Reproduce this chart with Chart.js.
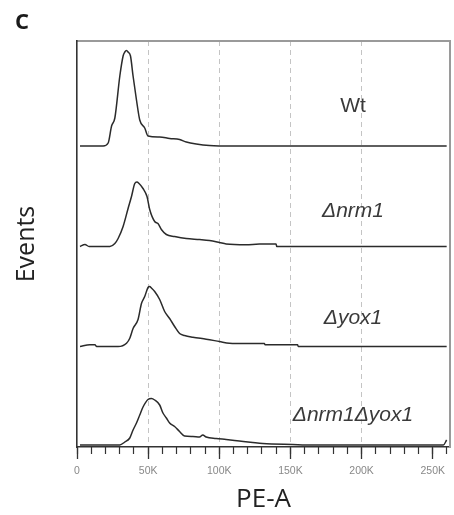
<!DOCTYPE html>
<html>
<head>
<meta charset="utf-8">
<script src="https://cdn.jsdelivr.net/npm/chart.js@4.4.1/dist/chart.umd.min.js"></script>
<style>
  html, body { margin: 0; padding: 0; background: #ffffff; }
  canvas { display: block; }
</style>
</head>
<body>
<canvas id="c" width="454" height="515"></canvas>
<script>
// ---- data (x in thousands of PE-A units, heights in arbitrary event units) ----
const strains = ['Wt', 'Δnrm1', 'Δyox1', 'Δnrm1Δyox1'];
const offsets = [301, 200.5, 100.5, 2];   // vertical stacking offset for each histogram

const wtX = [2.1, 18.4, 21.9, 24.3, 26.6, 30.1, 32.4, 33.6, 34.8, 35.9, 37.6, 39.4, 41.8, 44.1, 47.6, 49.9, 58.1, 65.1, 72.1, 76.8, 83.8, 93.1, 109.2, 259.8];
const wtH = [0, 0, 3, 20, 28, 70, 90, 94, 95.5, 94, 90, 70, 46, 26, 18, 10, 9, 7.5, 6.5, 4, 2, 0.5, 0, 0];

const nrm1X = [2.1, 5.6, 8.5, 23.1, 26.6, 28.9, 32.4, 35.9, 38.3, 40.6, 42.1, 43.6, 46.4, 49.2, 51.1, 54.6, 56.9, 59.3, 62.8, 68.6, 76.8, 86.1, 93.1, 100.1, 104.8, 118.8, 128.2, 139.9, 140.4, 259.8];
const nrm1H = [0, 2, 0, 0, 3, 8, 20, 38, 50, 63, 64.5, 63, 58, 50, 37, 25, 23, 17, 12, 10, 8, 7, 6, 4, 2.5, 1.7, 2.5, 2.5, 0, 0];

const yox1X = [2.1, 9.1, 12.6, 13.8, 28.9, 34.8, 37.1, 39.4, 42.9, 45.3, 47.6, 49.9, 51.1, 52.3, 54.6, 58.1, 61.6, 65.1, 68.6, 72.1, 75.6, 81.4, 90.8, 100.1, 107.1, 118.8, 128.2, 131.7, 132.2, 155.0, 155.5, 259.8];
const yox1H = [0, 1.7, 1.7, 0, 0, 3.3, 8.3, 18, 27, 43, 50, 59, 60, 58.5, 55, 47, 35, 28, 20, 13, 11, 9.3, 7.3, 5, 3.3, 3, 3, 3, 1.7, 1.7, 0, 0];

const dblX = [2.1, 30.1, 33.6, 37.1, 39.4, 41.8, 44.1, 46.4, 49.9, 52.3, 54.6, 58.1, 60.4, 62.8, 65.1, 68.6, 72.1, 75.6, 81.4, 86.1, 88.4, 90.8, 97.8, 104.8, 114.1, 123.5, 130.5, 151.5, 165.3, 177.2, 257.5, 259.8];
const dblH = [0, 0, 3, 7, 15, 22, 30, 38, 45.5, 46.5, 45, 40, 32, 27, 22, 18.5, 13.5, 9, 8.5, 8, 10, 8, 6.5, 5.5, 4, 2.5, 1.5, 0.5, 0, 0, 0, 5];

const majorTicks = [0, 50, 100, 150, 200, 250];     // labelled ticks (K)
const tickLabels = ['0', '50K', '100K', '150K', '200K', '250K'];
const xMax = 262.144;

// ---- build datasets ----
const seriesX = [wtX, nrm1X, yox1X, dblX];
const seriesH = [wtH, nrm1H, yox1H, dblH];
const datasets = strains.map((name, i) => ({
  label: name,
  data: seriesX[i].map((x, j) => ({ x: x, y: offsets[i] + seriesH[i][j] })),
  borderColor: '#2b2b2b',
  borderWidth: 1.5,
  pointRadius: 0,
  fill: false,
  cubicInterpolationMode: 'monotone',
  xAxisID: 'x',
  yAxisID: 'y'
}));

// label placement style (x in K, y in chart units)
const labelStyle = {
  x: 194,
  y: [340.5, 236, 129, 32],
  italic: [false, true, true, true],
  font: '21px "Liberation Sans", Arial, sans-serif',
  color: '#3a3a3a'
};

const textPlugin = {
  id: 'strainLabels',
  afterDraw(chart) {
    const ctx = chart.ctx;
    const xs = chart.scales.x, ys = chart.scales.y;
    ctx.save();
    ctx.fillStyle = labelStyle.color;
    ctx.textAlign = 'center';
    ctx.textBaseline = 'middle';
    strains.forEach((s, i) => {
      ctx.font = (labelStyle.italic[i] ? 'italic ' : '') + labelStyle.font;
      ctx.fillText(s, xs.getPixelForValue(labelStyle.x), ys.getPixelForValue(labelStyle.y[i]));
    });
    // panel letter
    ctx.fillStyle = '#1a1a1a';
    ctx.font = 'bold 22px "Open Sans", sans-serif';
    ctx.textAlign = 'left';
    ctx.fillText('C', 15, 23);
    ctx.restore();
  }
};

new Chart(document.getElementById('c'), {
  type: 'line',
  data: { datasets },
  plugins: [textPlugin],
  options: {
    responsive: false,
    animation: false,
    devicePixelRatio: 1,
    layout: { padding: 0 },
    plugins: { legend: { display: false }, tooltip: { enabled: false }, title: { display: false } },
    scales: {
      x2: {
        type: 'linear', position: 'bottom', weight: 0,
        min: 0, max: xMax,
        ticks: { display: false, stepSize: 10, includeBounds: false },
        grid: { drawOnChartArea: false, drawTicks: true, tickLength: 7, tickColor: '#333', tickWidth: 1.2 },
        border: { display: false },
        afterFit(s) { s.height = 0; }
      },
      x: {
        type: 'linear', position: 'bottom', weight: 1,
        min: 0, max: xMax,
        ticks: {
          stepSize: 50, includeBounds: false, padding: 6, maxRotation: 0, autoSkip: false,
          color: '#888',
          font: { family: '"Liberation Sans", Arial, sans-serif', size: 10.5 },
          callback: (v) => { const k = majorTicks.indexOf(v); return k >= 0 ? tickLabels[k] : ''; }
        },
        grid: {
          drawOnChartArea: true, drawTicks: true, tickLength: 12, tickColor: '#333', tickWidth: 1.3,
          lineWidth: 1,
          color: (c) => (c.tick && c.tick.value > 0 && c.tick.value < 250) ? '#c4c4c4' : 'rgba(0,0,0,0)'
        },
        border: { display: true, color: '#333', width: 1.6, dash: [5, 4] },
        title: {
          display: true, text: 'PE-A', color: '#222',
          font: { family: '"Open Sans", sans-serif', size: 26 },
          padding: { top: 0, bottom: 0 }
        },
        afterFit(s) { s.height = 68; }
      },
      xTop: {
        type: 'linear', position: 'top', min: 0, max: 1,
        ticks: { display: false }, grid: { display: false, drawTicks: false },
        border: { display: true, color: '#9a9a9a', width: 2 },
        afterFit(s) { s.height = 41; }
      },
      y: {
        type: 'linear', position: 'left', min: 0, max: 406,
        ticks: { display: false }, grid: { display: false, drawTicks: false },
        border: { display: true, color: '#333', width: 1.6 },
        title: {
          display: true, text: 'Events', color: '#222',
          font: { family: '"Open Sans", sans-serif', size: 25 },
          padding: { top: 12, bottom: 0 }
        },
        afterFit(s) { s.width = 77; }
      },
      yRight: {
        type: 'linear', position: 'right', min: 0, max: 1,
        ticks: { display: false }, grid: { display: false, drawTicks: false },
        border: { display: true, color: '#9a9a9a', width: 2 },
        afterFit(s) { s.width = 4; }
      }
    }
  }
});
</script>
</body>
</html>
